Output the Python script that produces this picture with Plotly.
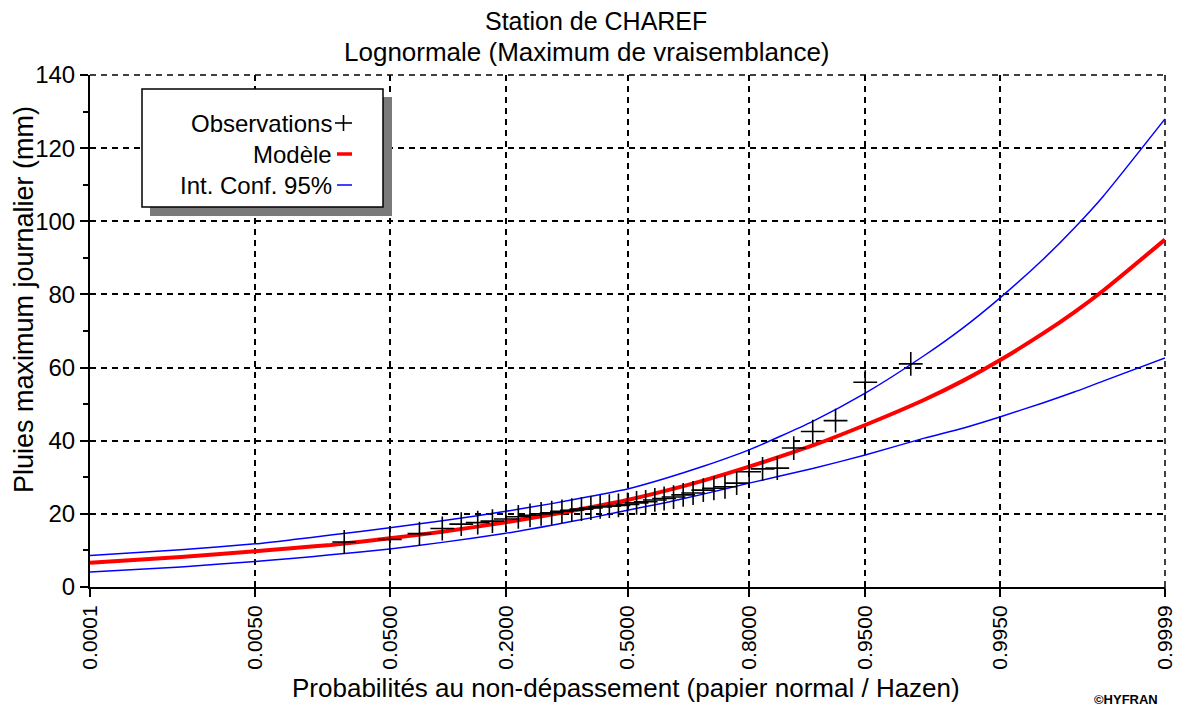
import plotly.graph_objects as go
from statistics import NormalDist

# ---------------- data ----------------
tick_probs = [0.0001, 0.005, 0.05, 0.2, 0.5, 0.8, 0.95, 0.995, 0.9999]
tick_labels = ["0.0001", "0.0050", "0.0500", "0.2000", "0.5000",
               "0.8000", "0.9500", "0.9950", "0.9999"]
y_ticks = [0, 20, 40, 60, 80, 100, 120, 140]

obs_prob = [0.025, 0.05, 0.075, 0.1, 0.125, 0.15, 0.175, 0.2, 0.225, 0.25,
            0.275, 0.3, 0.325, 0.35, 0.375, 0.4, 0.425, 0.45, 0.475, 0.5,
            0.525, 0.55, 0.575, 0.6, 0.625, 0.65, 0.675, 0.7, 0.725, 0.75,
            0.775, 0.8, 0.825, 0.85, 0.875, 0.9, 0.925, 0.95, 0.975]
obs_value = [12.3, 13.0, 14.6, 16.0, 17.2, 17.6, 18.0, 18.6, 19.2, 19.6,
             20.0, 20.3, 20.7, 21.0, 21.3, 21.6, 21.9, 22.1, 22.3, 22.6,
             23.0, 23.3, 23.8, 24.2, 24.6, 25.2, 25.7, 26.5, 27.0, 27.4,
             28.4, 31.5, 32.3, 32.5, 38.0, 42.5, 45.5, 56.0, 61.0]

curve_prob = [0.0001, 0.001, 0.005, 0.01, 0.02, 0.05, 0.1, 0.2, 0.3, 0.4,
              0.5, 0.6, 0.7, 0.8, 0.9, 0.95, 0.98, 0.99, 0.995, 0.998,
              0.999, 0.9995, 0.9999]
model_value = [6.6, 8.2, 9.8, 10.6, 11.5, 13.3, 15.1, 17.7, 19.8, 21.8,
               23.8, 26.2, 29.1, 32.9, 38.7, 44.3, 51.2, 56.5, 62.0, 69.4,
               75.1, 81.0, 95.0]
upper_value = [8.6, 10.2, 11.8, 12.9, 14.2, 16.2, 18.1, 20.7, 22.8, 24.8,
               26.8, 29.6, 33.0, 37.5, 45.3, 53.0, 63.3, 71.0, 79.0, 89.7,
               98.1, 106.8, 128.0]
lower_value = [4.1, 5.5, 7.0, 7.8, 8.8, 10.4, 12.2, 14.7, 16.9, 18.9,
               21.0, 23.0, 25.4, 28.4, 32.4, 36.1, 40.7, 43.5, 46.5, 50.4,
               53.3, 56.3, 62.6]

# ---------------- normal probability paper scale ----------------
nd = NormalDist()


def zscale(ps):
    return [nd.inv_cdf(p) for p in ps]


FONT = "Liberation Sans, Arial, sans-serif"
OFF = 8                      # page body margin of the browser
W, H = 1181 - OFF, 714 - OFF
# plot area in page pixels: x 90..1165, y 75..587
L = 90 - OFF
T = 75 - OFF
R = W - (1165 - OFF)
B = H - (587 - OFF)
PW, PH = W - L - R, H - T - B


def px(xp):           # page pixel x -> paper
    return (xp - OFF - L) / PW


def py(yp):           # page pixel y -> paper
    return (H - B - (yp - OFF)) / PH


fig = go.Figure()

fig.add_trace(go.Scatter(x=zscale(curve_prob), y=upper_value, mode="lines",
                         line=dict(color="#0000ff", width=1.5, shape="spline", smoothing=0.6),
                         showlegend=False, hoverinfo="skip"))
fig.add_trace(go.Scatter(x=zscale(curve_prob), y=lower_value, mode="lines",
                         line=dict(color="#0000ff", width=1.5, shape="spline", smoothing=0.6),
                         showlegend=False, hoverinfo="skip"))
fig.add_trace(go.Scatter(x=zscale(curve_prob), y=model_value, mode="lines",
                         line=dict(color="#ff0000", width=4, shape="spline", smoothing=0.6),
                         showlegend=False, hoverinfo="skip"))
fig.add_trace(go.Scatter(x=zscale(obs_prob), y=obs_value, mode="markers",
                         marker=dict(symbol="cross-thin", size=17,
                                     line=dict(color="black", width=1.6)),
                         showlegend=False, hoverinfo="skip"))

zt = zscale(tick_probs)
EPS = 1e-6
fig.update_xaxes(range=[zt[0] - EPS, zt[-1] + EPS], tickmode="array", tickvals=zt,
                 ticktext=tick_labels, tickangle=-90, ticklabeloverflow="allow",
                 tickfont=dict(family=FONT, size=21, color="black"),
                 ticks="outside", ticklen=8, tickwidth=1.5, tickcolor="black",
                 showline=True, linecolor="black", linewidth=2,
                 showgrid=True, gridcolor="black", gridwidth=1.5, griddash="6px,5px",
                 zeroline=False, automargin=False)
fig.update_yaxes(range=[0, 140 + 1e-6], tickmode="array", tickvals=y_ticks,
                 ticklabeloverflow="allow",
                 tickfont=dict(family=FONT, size=24, color="black"),
                 ticks="outside", ticklen=8, tickwidth=1.5, tickcolor="black",
                 minor=dict(dtick=10, ticks="outside", ticklen=5, tickwidth=1.5,
                            tickcolor="black", showgrid=False),
                 showline=True, linecolor="black", linewidth=2,
                 showgrid=True, gridcolor="black", gridwidth=1.5, griddash="6px,5px",
                 zeroline=False, automargin=False)

shapes = []
# dashed frame on the top and right edges (grid lines at 140 and 0.9999)
shapes.append(dict(type="line", xref="paper", yref="paper", x0=1, x1=1, y0=0, y1=1,
                   line=dict(color="black", width=1.5, dash="6px,5px"), layer="below"))
shapes.append(dict(type="line", xref="paper", yref="paper", x0=0, x1=1, y0=1, y1=1,
                   line=dict(color="black", width=1.5, dash="6px,5px"), layer="below"))
# tick mark at right end of x axis
shapes.append(dict(type="line", xref="paper", yref="paper", x0=1, x1=1,
                   y0=0, y1=-8 / PH, line=dict(color="black", width=1.5), layer="above"))
# legend shadow + box
shapes.append(dict(type="rect", xref="paper", yref="paper",
                   x0=px(150), x1=px(392), y0=py(216), y1=py(97),
                   fillcolor="#7a7a7a", line=dict(width=0), layer="above"))
shapes.append(dict(type="rect", xref="paper", yref="paper",
                   x0=px(142), x1=px(383), y0=py(207), y1=py(89),
                   fillcolor="white", line=dict(color="black", width=1.5), layer="above"))
# legend symbols
shapes.append(dict(type="line", xref="paper", yref="paper",
                   x0=px(335), x1=px(352), y0=py(123), y1=py(123),
                   line=dict(color="black", width=1.6), layer="above"))
shapes.append(dict(type="line", xref="paper", yref="paper",
                   x0=px(343.5), x1=px(343.5), y0=py(115), y1=py(131),
                   line=dict(color="black", width=1.6), layer="above"))
shapes.append(dict(type="line", xref="paper", yref="paper",
                   x0=px(337), x1=px(352), y0=py(154), y1=py(154),
                   line=dict(color="#ff0000", width=3.5), layer="above"))
shapes.append(dict(type="line", xref="paper", yref="paper",
                   x0=px(337), x1=px(352), y0=py(185), y1=py(185),
                   line=dict(color="#0000ff", width=1.5), layer="above"))

ann = []
for txt, yy in [("Observations", 123), ("Modèle", 154), ("Int. Conf. 95%", 185)]:
    ann.append(dict(text=txt, xref="paper", yref="paper", x=px(334), y=py(yy),
                    xanchor="right", yanchor="middle", showarrow=False,
                    font=dict(family=FONT, size=24, color="black")))
ann.append(dict(text="Station de CHAREF", xref="paper", yref="paper",
                x=px(596), y=py(21), xanchor="center", yanchor="middle",
                showarrow=False, font=dict(family=FONT, size=25, color="black")))
ann.append(dict(text="Lognormale (Maximum de vraisemblance)", xref="paper", yref="paper",
                x=px(587), y=py(52), xanchor="center", yanchor="middle",
                showarrow=False, font=dict(family=FONT, size=26, color="black")))
ann.append(dict(text="Pluies maximum journalier (mm)", xref="paper", yref="paper",
                x=px(24), y=py(300), xanchor="center", yanchor="middle", textangle=-90,
                showarrow=False, font=dict(family=FONT, size=27, color="black")))
ann.append(dict(text="Probabilités au non-dépassement (papier normal / Hazen)",
                xref="paper", yref="paper", x=px(626), y=py(688),
                xanchor="center", yanchor="middle",
                showarrow=False, font=dict(family=FONT, size=26, color="black")))
ann.append(dict(text="<b>©HYFRAN</b>", xref="paper", yref="paper",
                x=px(1126), y=py(699), xanchor="center", yanchor="middle",
                showarrow=False, font=dict(family=FONT, size=13, color="black")))

fig.update_layout(width=W, height=H, margin=dict(l=L, r=R, t=T, b=B, autoexpand=False),
                  paper_bgcolor="white", plot_bgcolor="white",
                  shapes=shapes, annotations=ann, showlegend=False)

fig.write_html("out.html")
